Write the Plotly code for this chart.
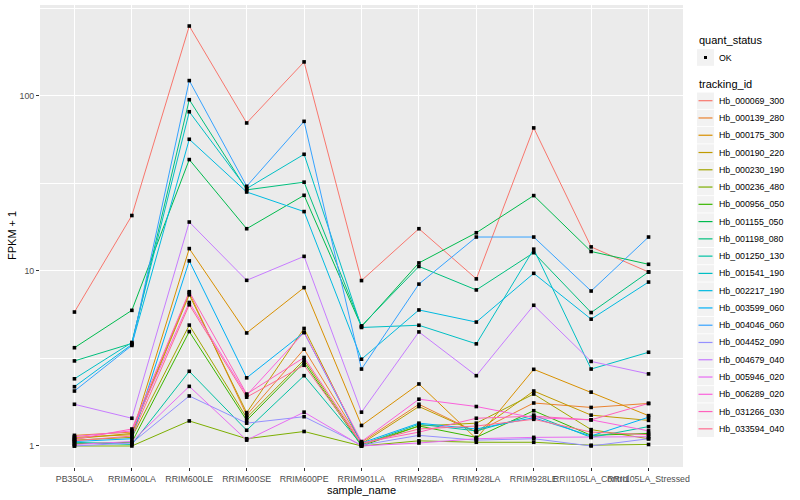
import plotly.graph_objects as go

# ---------------- data ----------------
samples = ["PB350LA", "RRIM600LA", "RRIM600LE", "RRIM600SE", "RRIM600PE", "RRIM901LA",
           "RRIM928BA", "RRIM928LA", "RRIM928LE", "RRII105LA_Control", "RRII105LA_Stressed"]

hb_000069_300 = [5.82, 20.7, 250, 69.9, 156, 8.8, 17.4, 9.0, 65.5, 13.7, 9.85]
hb_000139_280 = [1.15, 1.20, 7.5, 1.50, 3.57, 1.05, 1.73, 1.20, 1.76, 1.66, 1.75]
hb_000175_300 = [1.12, 1.16, 13.4, 4.42, 8.02, 1.31, 2.26, 1.10, 2.74, 2.03, 1.49]
hb_000190_220 = [1.10, 1.18, 7.3, 1.55, 4.69, 1.03, 1.68, 1.20, 2.06, 1.50, 1.40]
hb_000230_190 = [1.08, 1.12, 4.9, 1.45, 3.10, 1.02, 1.30, 1.35, 1.98, 1.24, 1.10]
hb_000236_480 = [1.00, 1.00, 1.39, 1.10, 1.21, 1.00, 1.07, 1.05, 1.05, 1.01, 1.02]
hb_000956_050 = [1.03, 1.05, 4.5, 1.40, 3.00, 1.00, 1.30, 1.12, 1.59, 1.15, 1.18]
hb_001155_050 = [3.64, 5.95, 43.2, 17.4, 27.0, 4.80, 11.1, 16.5, 26.9, 12.9, 10.9]
hb_001198_080 = [3.06, 3.85, 94.9, 29.0, 32.1, 4.85, 10.6, 7.78, 12.7, 5.78, 9.85]
hb_001250_130 = [1.05, 1.02, 2.67, 1.23, 2.52, 1.02, 1.33, 1.22, 1.50, 1.12, 1.29]
hb_001541_190 = [2.42, 3.90, 81.0, 29.5, 46.3, 4.75, 4.89, 3.83, 13.3, 2.75, 3.43]
hb_002217_190 = [2.18, 3.80, 56.4, 28.2, 21.8, 3.13, 5.98, 5.10, 9.68, 5.30, 8.63]
hb_003599_060 = [1.06, 1.10, 11.4, 2.45, 4.45, 1.04, 1.35, 1.25, 1.45, 1.14, 1.46]
hb_004046_060 = [2.06, 3.75, 122, 30.4, 71.4, 2.75, 8.40, 15.6, 15.6, 7.67, 15.6]
hb_004452_090 = [1.00, 1.04, 1.93, 1.35, 1.47, 1.01, 1.15, 1.08, 1.10, 1.00, 1.10]
hb_004679_040 = [1.73, 1.44, 19.0, 8.83, 12.1, 1.56, 4.48, 2.52, 6.36, 3.04, 2.58]
hb_005946_020 = [1.02, 1.06, 2.19, 1.08, 1.56, 1.00, 1.04, 1.10, 1.12, 1.12, 1.13]
hb_006289_020 = [1.13, 1.22, 6.6, 1.95, 4.45, 1.06, 1.85, 1.68, 1.45, 1.41, 1.22]
hb_031266_030 = [1.09, 1.25, 7.6, 1.98, 3.20, 1.04, 1.20, 1.44, 1.48, 1.41, 1.75]
hb_033594_040 = [1.07, 1.14, 6.4, 1.90, 2.89, 1.03, 1.25, 1.30, 1.42, 1.20, 1.16]

tracking_ids = ["Hb_000069_300", "Hb_000139_280", "Hb_000175_300", "Hb_000190_220",
                "Hb_000230_190", "Hb_000236_480", "Hb_000956_050", "Hb_001155_050",
                "Hb_001198_080", "Hb_001250_130", "Hb_001541_190", "Hb_002217_190",
                "Hb_003599_060", "Hb_004046_060", "Hb_004452_090", "Hb_004679_040",
                "Hb_005946_020", "Hb_006289_020", "Hb_031266_030", "Hb_033594_040"]
series_values = [hb_000069_300, hb_000139_280, hb_000175_300, hb_000190_220,
                 hb_000230_190, hb_000236_480, hb_000956_050, hb_001155_050,
                 hb_001198_080, hb_001250_130, hb_001541_190, hb_002217_190,
                 hb_003599_060, hb_004046_060, hb_004452_090, hb_004679_040,
                 hb_005946_020, hb_006289_020, hb_031266_030, hb_033594_040]

y_tick_values = [1, 10, 100]
y_tick_labels = ["1", "10", "100"]
y_minor_values = [10 ** 0.5, 10 ** 1.5, 10 ** 2.5]

# ---------------- styles ----------------
colors = ["#F8766D", "#EA8331", "#D89000", "#C09B00", "#A3A500", "#7CAE00", "#39B600",
          "#00BB4E", "#00BF7D", "#00C1A3", "#00BFC4", "#00BAE0", "#00B0F6", "#35A2FF",
          "#9590FF", "#C77CFF", "#E76BF3", "#FA62DB", "#FF62BC", "#FF6C91"]
FONT = "Liberation Sans, Arial, sans-serif"

L, R, T, B = 40, 117, 5, 33
W, H = 800 - L - R, 500 - T - B


def px(x):
    return (x - L) / W


def py(y):
    return 1 - (y - T) / H


fig = go.Figure()
for name, vals, col in zip(tracking_ids, series_values, colors):
    fig.add_trace(go.Scatter(x=samples, y=vals, mode="lines", name=name,
                             line=dict(color=col, width=1), showlegend=False))
for name, vals in zip(tracking_ids, series_values):
    fig.add_trace(go.Scatter(x=samples, y=vals, mode="markers", name=name,
                             marker=dict(color="black", size=3.6, symbol="square"),
                             showlegend=False))

fig.update_layout(
    width=800, height=500,
    margin=dict(l=L, r=R, t=T, b=B, autoexpand=False),
    paper_bgcolor="white", plot_bgcolor="#EBEBEB",
    font=dict(family=FONT, size=9, color="#4D4D4D"),
    xaxis=dict(type="category", range=[-0.6, len(samples) - 0.4],
               showgrid=True, gridcolor="white", gridwidth=1.1,
               ticks="outside", ticklen=3, tickcolor="#333333", tickwidth=1,
               tickangle=0,
               tickfont=dict(size=8.8, color="#4D4D4D"), zeroline=False,
               showline=False, automargin=False),
    yaxis=dict(type="log", range=[-0.12, 2.518],
               tickvals=y_tick_values, ticktext=y_tick_labels,
               showgrid=True, gridcolor="white", gridwidth=1.1,
               minor=dict(tickvals=y_minor_values, showgrid=True, gridcolor="white",
                          gridwidth=0.55, ticks=""),
               ticks="outside", ticklen=3, tickcolor="#333333", tickwidth=1,
               tickfont=dict(size=8.8, color="#4D4D4D"), zeroline=False,
               showline=False, automargin=False),
)

shapes = []
annotations = []

# axis titles
annotations.append(dict(text="FPKM + 1", x=px(12), y=py(236), xref="paper", yref="paper",
                        showarrow=False, textangle=-90, xanchor="center", yanchor="middle",
                        font=dict(family=FONT, size=11, color="black")))
annotations.append(dict(text="sample_name", x=px(361.5), y=py(490), xref="paper", yref="paper",
                        showarrow=False, xanchor="center", yanchor="middle",
                        font=dict(family=FONT, size=11, color="black")))

# legend: quant_status
legend_x = 697
annotations.append(dict(text="quant_status", x=px(legend_x), y=py(40), xref="paper", yref="paper",
                        showarrow=False, xanchor="left", yanchor="middle",
                        font=dict(family=FONT, size=11, color="black")))
cy = 57.5
shapes.append(dict(type="rect", xref="paper", yref="paper", x0=px(legend_x), x1=px(legend_x + 17),
                   y0=py(cy + 8.3), y1=py(cy - 8.3), fillcolor="#F2F2F2", line=dict(width=0),
                   layer="above"))
shapes.append(dict(type="rect", xref="paper", yref="paper", x0=px(legend_x + 7), x1=px(legend_x + 10),
                   y0=py(cy + 1.5), y1=py(cy - 1.5), fillcolor="black", line=dict(width=0),
                   layer="above"))
annotations.append(dict(text="OK", x=px(716.5), y=py(cy), xref="paper", yref="paper",
                        showarrow=False, xanchor="left", yanchor="middle",
                        font=dict(family=FONT, size=8.8, color="black")))

# legend: tracking_id
annotations.append(dict(text="tracking_id", x=px(legend_x), y=py(84), xref="paper", yref="paper",
                        showarrow=False, xanchor="left", yanchor="middle",
                        font=dict(family=FONT, size=11, color="black")))
for i, (name, col) in enumerate(zip(tracking_ids, colors)):
    cy = 100.7 + 17.27 * i
    shapes.append(dict(type="rect", xref="paper", yref="paper", x0=px(legend_x), x1=px(legend_x + 17),
                       y0=py(cy + 8.2), y1=py(cy - 8.2), fillcolor="#F2F2F2", line=dict(width=0),
                       layer="above"))
    shapes.append(dict(type="line", xref="paper", yref="paper", x0=px(legend_x + 1.5),
                       x1=px(legend_x + 15.5), y0=py(cy), y1=py(cy),
                       line=dict(color=col, width=1.2), layer="above"))
    annotations.append(dict(text=name, x=px(716.5), y=py(cy), xref="paper", yref="paper",
                            showarrow=False, xanchor="left", yanchor="middle",
                            font=dict(family=FONT, size=8.8, color="black")))

fig.update_layout(shapes=shapes, annotations=annotations)
fig.write_html("out.html", config={"displayModeBar": False},
               post_script="document.body.style.margin='0';document.body.style.overflow='hidden';")
